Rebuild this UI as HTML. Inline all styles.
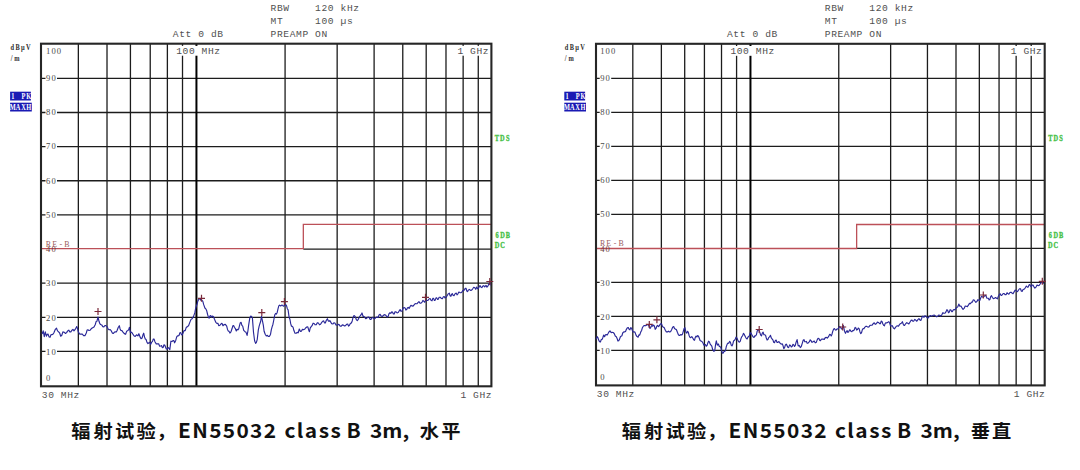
<!DOCTYPE html>
<html><head><meta charset="utf-8"><title>EN55032 radiated emission</title>
<style>
html,body{margin:0;padding:0;background:#fff;}
body{width:1080px;height:470px;overflow:hidden;position:relative;}
svg{position:absolute;left:0;top:0;display:block;}
</style></head>
<body>
<svg width="1080" height="470" viewBox="0 0 1080 470">
<rect width="1080" height="470" fill="#fff"/>
<line x1="41" y1="351.46" x2="491.4" y2="351.46" stroke="#1c1c1c" stroke-width="1.3"/>
<line x1="41" y1="317.32" x2="491.4" y2="317.32" stroke="#1c1c1c" stroke-width="1.3"/>
<line x1="41" y1="283.18" x2="491.4" y2="283.18" stroke="#1c1c1c" stroke-width="1.3"/>
<line x1="303.33" y1="249.04" x2="491.4" y2="249.04" stroke="#1c1c1c" stroke-width="1.3"/>
<line x1="41" y1="214.9" x2="491.4" y2="214.9" stroke="#1c1c1c" stroke-width="1.3"/>
<line x1="41" y1="180.76" x2="491.4" y2="180.76" stroke="#1c1c1c" stroke-width="1.3"/>
<line x1="41" y1="146.62" x2="491.4" y2="146.62" stroke="#1c1c1c" stroke-width="1.3"/>
<line x1="41" y1="112.48" x2="491.4" y2="112.48" stroke="#1c1c1c" stroke-width="1.3"/>
<line x1="41" y1="78.34" x2="491.4" y2="78.34" stroke="#1c1c1c" stroke-width="1.3"/>
<line x1="78.35" y1="43.7" x2="78.35" y2="386.3" stroke="#1c1c1c" stroke-width="1.3"/>
<line x1="107.01" y1="43.7" x2="107.01" y2="386.3" stroke="#1c1c1c" stroke-width="1.3"/>
<line x1="130.43" y1="43.7" x2="130.43" y2="386.3" stroke="#1c1c1c" stroke-width="1.3"/>
<line x1="150.23" y1="43.7" x2="150.23" y2="386.3" stroke="#1c1c1c" stroke-width="1.3"/>
<line x1="167.38" y1="43.7" x2="167.38" y2="386.3" stroke="#1c1c1c" stroke-width="1.3"/>
<line x1="182.51" y1="43.7" x2="182.51" y2="386.3" stroke="#1c1c1c" stroke-width="1.3"/>
<line x1="285.08" y1="43.7" x2="285.08" y2="386.3" stroke="#1c1c1c" stroke-width="1.3"/>
<line x1="337.16" y1="43.7" x2="337.16" y2="386.3" stroke="#1c1c1c" stroke-width="1.3"/>
<line x1="374.11" y1="43.7" x2="374.11" y2="386.3" stroke="#1c1c1c" stroke-width="1.3"/>
<line x1="402.77" y1="43.7" x2="402.77" y2="386.3" stroke="#1c1c1c" stroke-width="1.3"/>
<line x1="426.19" y1="43.7" x2="426.19" y2="386.3" stroke="#1c1c1c" stroke-width="1.3"/>
<line x1="445.99" y1="43.7" x2="445.99" y2="386.3" stroke="#1c1c1c" stroke-width="1.3"/>
<line x1="463.14" y1="43.7" x2="463.14" y2="386.3" stroke="#1c1c1c" stroke-width="1.3"/>
<line x1="478.27" y1="43.7" x2="478.27" y2="386.3" stroke="#1c1c1c" stroke-width="1.3"/>
<line x1="196.44" y1="43.7" x2="196.44" y2="386.3" stroke="#000" stroke-width="2"/>
<rect x="45.5" y="347.96" width="11.5" height="7" fill="#fff"/>
<rect x="45.5" y="313.82" width="11.5" height="7" fill="#fff"/>
<rect x="45.5" y="279.68" width="11.5" height="7" fill="#fff"/>
<rect x="45.5" y="245.54" width="11.5" height="7" fill="#fff"/>
<rect x="45.5" y="211.4" width="11.5" height="7" fill="#fff"/>
<rect x="45.5" y="177.26" width="11.5" height="7" fill="#fff"/>
<rect x="45.5" y="143.12" width="11.5" height="7" fill="#fff"/>
<rect x="45.5" y="108.98" width="11.5" height="7" fill="#fff"/>
<rect x="45.5" y="74.84" width="11.5" height="7" fill="#fff"/>
<rect x="175" y="45.9" width="46" height="9.8" fill="#fff"/>
<rect x="455.9" y="45.9" width="34" height="9.8" fill="#fff"/>
<polyline points="41,248.7 303.33,248.7 303.33,224.4 491.4,224.4" fill="none" stroke="#bc5058" stroke-width="1.3"/>
<rect x="41" y="43.7" width="450.4" height="342.6" fill="none" stroke="#262626" stroke-width="2.1"/>
<g font-family="'Liberation Serif', serif" fill="#4a4a4a" font-size="8.6">
<text x="48.12 53.58 59.02" y="53.6" text-anchor="middle" xml:space="preserve">100</text>
<text x="48.12 53.58" y="354.84" text-anchor="middle" xml:space="preserve">10</text>
<text x="48.12 53.58" y="320.58" text-anchor="middle" xml:space="preserve">20</text>
<text x="48.12 53.58" y="286.32" text-anchor="middle" xml:space="preserve">30</text>
<g fill="#6e3c40"><text x="48.12 53.58" y="252.06" text-anchor="middle" xml:space="preserve">40</text></g>
<text x="48.12 53.58" y="217.8" text-anchor="middle" xml:space="preserve">50</text>
<text x="48.12 53.58" y="183.54" text-anchor="middle" xml:space="preserve">60</text>
<text x="48.12 53.58" y="149.28" text-anchor="middle" xml:space="preserve">70</text>
<text x="48.12 53.58" y="115.02" text-anchor="middle" xml:space="preserve">80</text>
<text x="48.12 53.58" y="80.76" text-anchor="middle" xml:space="preserve">90</text>
<text x="48.12" y="380.9" text-anchor="middle" xml:space="preserve">0</text>
</g>
<g font-family="'Liberation Mono', 'DejaVu Sans Mono', monospace" fill="#505050" font-size="9.6" letter-spacing="0.6">
<text x="176.2" y="54.1">100 MHz</text>
<text x="457.4" y="54.1">1 GHz</text>
<text x="41.8" y="398.1">30 MHz</text>
<text x="460.4" y="398.1">1 GHz</text>
<text x="172.8" y="37.1">Att 0 dB</text>
<text x="270.6" y="11.4" xml:space="preserve">RBW    120 kHz</text>
<text x="270.6" y="23.9" xml:space="preserve">MT     100 µs</text>
<text x="270.6" y="36.9" xml:space="preserve">PREAMP ON</text>
</g>
<g font-family="'Liberation Serif', serif" fill="#9a5c5e" font-size="9.2"><text transform="translate(45.3,246.56) scale(0.86,1)" x="3.6 10.81 18.02 25.23" y="0" text-anchor="middle" xml:space="preserve">RE-B</text></g>
<g font-family="'Liberation Serif', serif" font-weight="700" fill="#44c044" stroke="#44c044" stroke-width="0.3" font-size="7.4">
<text transform="translate(494.3,140.9) scale(0.86,1)" x="3.14 9.42 15.7" y="0" text-anchor="middle" xml:space="preserve">TDS</text>
<text transform="translate(494.4,237.8) scale(0.86,1)" x="3.14 9.42 15.7" y="0" text-anchor="middle" xml:space="preserve">6DB</text>
<text transform="translate(494.4,248.4) scale(0.86,1)" x="3.14 9.42" y="0" text-anchor="middle" xml:space="preserve">DC</text>
</g>
<g font-family="'Liberation Serif', serif" font-weight="700" fill="#2e2e2e" font-size="7.4">
<text transform="translate(9.7,49.8) scale(0.86,1)" x="3.08 9.24 15.41 21.57" y="0" text-anchor="middle" xml:space="preserve">dBµV</text>
<text transform="translate(8.9,60.8) scale(0.86,1)" x="3.08 9.24" y="0" text-anchor="middle" xml:space="preserve">/m</text>
</g>
<rect x="10.1" y="91.7" width="20.8" height="8.8" fill="#1a1ab4"/>
<rect x="10.1" y="102.7" width="21.7" height="8.8" fill="#1a1ab4"/>
<g font-family="'Liberation Serif', serif" font-weight="700" fill="#fff" font-size="7.4">
<text transform="translate(10.2,98.9) scale(0.86,1)" x="3.08 9.24 15.41 21.57" y="0" text-anchor="middle" xml:space="preserve">1 PK</text>
<text transform="translate(10.2,109.9) scale(0.86,1)" x="3.08 9.24 15.41 21.57" y="0" text-anchor="middle" xml:space="preserve">MAXH</text>
</g>
<polyline points="42.1,334 43.2,330.9 44.3,336.7 45.3,331.9 46.4,336.2 47.2,334.57 48,334 49.05,336.85 50.1,337.2 50.9,334.74 51.7,334.6 52.75,334.46 53.8,333 55.15,329.7 56.5,328.2 57.55,330.9 58.6,331.9 59.65,333 60.7,336.2 61.8,335.24 62.9,331.9 64.2,332.21 65.5,333.5 66.6,332.63 67.7,330.9 68.75,330.16 69.8,331.9 70.85,331.93 71.9,330.3 72.95,329.44 74,330.9 75.35,329.15 76.7,326.6 77.5,328.4 78.3,331.9 79.65,334.07 81,334 82.3,334.17 83.6,335.6 84.95,335.65 86.3,333 87.1,330.1 87.9,329.8 88.95,330.48 90,330.3 91.35,328.57 92.7,327.7 94,327.04 95.3,324.5 96.1,321.56 96.9,321.3 98,317 99,321.3 99.8,323.68 100.6,324.5 101.7,324.93 102.8,326.6 103.85,326.87 104.9,325.5 105.95,325.62 107,326.6 108.05,328.82 109.1,329.8 110.2,329.51 111.3,330.9 112.35,333.1 113.4,333.5 114.45,332.07 115.5,331.9 116.3,331.83 117.1,330.5 118.2,327.48 119.3,325.7 120.1,328.96 120.9,330.5 121.95,330.61 123,332.1 124.3,333.62 125.6,334.3 126.7,331.16 127.8,330.5 128.6,329.86 129.4,327.3 130.4,332.7 131.5,332.16 132.6,333.7 133.9,335.64 135.2,336.4 136.55,334.76 137.9,335.9 138.9,333.7 140,336.9 141.05,338.71 142.1,338 142.9,335.08 143.7,333.2 144.5,336.83 145.3,339 146.1,339.48 146.9,342.2 147.95,343.61 149,342.8 149.8,342.26 150.6,344.4 151.7,342.2 152.5,341.42 153.3,339 154.1,339.12 154.9,341.7 156.25,343.82 157.6,343.8 158.63,343.83 159.67,346.25 160.7,346 161.5,345.52 162.3,347.6 163.1,347.5 163.9,344.9 164.7,345.04 165.5,347 166.3,349.04 167.1,349.1 168.2,347.6 169,348.22 169.8,349.7 170.9,341.2 171.95,341.54 173,340.6 173.8,340.5 174.6,342.8 175.65,340.66 176.7,336.9 177.5,335.83 178.3,335.9 179.1,335.25 179.9,332.7 180.7,332.65 181.5,334.8 182.3,334.82 183.1,332.7 184.15,330.45 185.2,330.59 186.25,327.37 187.3,326.8 188.65,325.53 190,321.9 191.05,319.38 192.1,318.7 193.45,316.59 194.8,312.9 195.6,308.56 196.4,306 197.2,303.73 198,300.6 199.05,299.11 200.1,298.5 200.9,300.4 201.7,300.1 202.75,301.12 203.8,304.9 204.9,307.99 206,309.1 206.8,311.01 207.6,314.5 208.35,316.92 209.1,318.2 209.9,315.95 210.7,315.5 211.5,317.18 212.3,316.1 213.4,316.53 214.5,319.3 215.8,322.34 217.1,323.5 217.9,323.29 218.7,325.6 219.8,325.43 220.9,324 221.93,323.29 222.97,325.75 224,324.6 225.35,324.42 226.7,326.2 227.5,329.46 228.3,331 229.1,331.38 229.9,333.1 230.95,331.9 232,328.8 232.8,325.84 233.6,325.6 234.4,327.36 235.2,328.3 236.3,331 237.1,329.27 237.9,329.9 238.7,328.97 239.5,325.6 240.3,322.71 241.1,322.4 241.9,325.44 242.7,326.2 243.7,330.4 245,331.7 246.05,332.34 247.1,335.4 247.9,331.02 248.7,324.8 249.8,317.9 250.6,316.14 251.4,316.3 252.4,317.9 253.5,332.2 254.6,340.7 255.6,343.4 256.4,342.38 257.2,339.7 258.3,330.1 259.1,326.44 259.9,323.7 260.7,321.27 261.5,316.3 262.6,321.6 263.35,325.43 264.1,331.2 265.2,334.2 266.3,336 267.35,335.35 268.4,336.5 269.45,336.33 270.5,334.4 271.3,329.89 272.1,326.9 272.9,324.45 273.7,320.5 274.8,314.7 275.6,313.46 276.4,314.1 277.2,312.47 278,308.8 278.8,305.94 279.6,305.1 280.65,305.96 281.7,305.1 282.5,305.22 283.3,306.2 284.1,306.03 284.9,304.6 285.7,304.52 286.5,305.6 287.3,308.73 288.1,309.9 289.1,317.3 289.9,319.24 290.7,323.7 291.5,326.25 292.3,326.4 293.1,327.3 293.9,330.6 295,333.17 296.1,333.3 297.15,332.39 298.2,332.8 299.3,329 300.35,331.34 301.4,331.2 302.45,329.33 303.5,329.6 304.55,329.28 305.6,328 306.7,327.03 307.8,326.9 308.6,329.71 309.4,331.7 310.2,328.14 311,326.9 312.05,325.7 313.1,323.2 314.15,323.49 315.2,324.8 316.25,324.77 317.3,322.7 318.4,323.01 319.5,324.8 320.55,324.22 321.6,322.7 322.65,321.24 323.7,320.9 324.5,322.88 325.3,323 326.35,320.28 327.4,318.7 328.2,320.72 329,321.4 329.8,320.54 330.6,321.9 331.7,323.8 332.8,324 333.85,322.78 334.9,323 335.95,324.92 337,325.1 338.05,324.43 339.1,324.6 340.2,326.19 341.3,326.2 342.35,324.83 343.4,325.1 344.45,325.94 345.5,325.6 346.6,324.29 347.7,324 348.5,326.1 349.3,325.6 350.35,323.39 351.4,323 352.2,320.96 353,317.7 354,315.5 355.1,316.39 356.2,319.3 357.25,320.52 358.3,319.3 359.35,316.98 360.4,315.5 361.2,314.62 362,312.9 363.1,316.6 363.9,316.3 364.7,317.1 365.75,318.77 366.8,318.2 367.85,317.09 368.9,317.1 370,319.3 371.1,319.3 372.15,317.42 373.2,317.7 374.25,318.89 375.3,318.2 376.35,317.03 377.4,317.1 378.2,317.43 379,315 380.1,314.35 381.2,316.1 382.5,316.47 383.8,315 384.9,314.63 386,315.5 387.05,317.1 388.1,316.6 388.9,313.96 389.7,312.9 390.75,313.33 391.8,311.8 392.6,312.18 393.4,314 394.2,313.93 395,311.8 396.05,311.89 397.1,312.9 398.2,312.5 399.3,310.7 400.1,309.58 400.9,311.2 401.95,311.13 403,308.5 404.05,307.54 405.1,308 405.9,310.06 406.7,309.6 407.5,307.79 408.3,307.4 409.1,308.49 409.9,306.9 410.95,305.26 412,305.9 413.05,306.17 414.1,304.8 415.2,303.6 416.3,303.7 417.1,303.61 417.9,302.7 418.95,301.67 420,303.2 421.05,303.09 422.1,302.1 422.9,300.38 423.7,301.1 424.77,302.26 425.83,299.73 426.9,300.5 427.95,300.32 429,299 430.1,298.48 431.2,300.5 432,300.82 432.8,298.4 433.6,298.35 434.4,300.5 435.2,300.11 436,297.9 436.8,297.92 437.6,299.5 438.35,299.15 439.1,297.3 440.2,297.24 441.3,298.4 442.35,298.67 443.4,296.8 444.2,296.52 445,297.9 446.05,297.39 447.1,295.7 448.2,293.9 449.3,293.1 450.1,295.77 450.9,296.3 451.65,294.25 452.4,293.6 453.2,295.55 454,295.7 455.1,293.67 456.2,293.1 457,294.87 457.8,294.1 458.85,292.05 459.9,292.6 460.95,292.72 462,292 462.8,290.6 463.6,290.4 464.4,290.08 465.2,288.3 466,288.26 466.8,291 467.6,291.63 468.4,289.9 469.45,289.41 470.5,290.4 471.6,290.21 472.7,288.8 473.75,287.23 474.8,287.8 475.73,289.3 476.67,287 477.6,288.6 478.4,288.39 479.2,286.7 480,285.57 480.8,287 481.8,287.64 482.8,286.1 483.75,285.67 484.7,287 486,285.4 486.95,287.14 487.9,286.1 488.85,283.92 489.8,283 490.4,285.4" fill="none" stroke="#2a2898" stroke-width="1.15" stroke-linejoin="round"/>
<path d="M94.5,311.5h7M98,308v7" stroke="#7a2a3a" stroke-width="1.2" fill="none"/>
<path d="M198,298.3h7M201.5,294.8v7" stroke="#7a2a3a" stroke-width="1.2" fill="none"/>
<path d="M258.3,312.6h7M261.8,309.1v7" stroke="#7a2a3a" stroke-width="1.2" fill="none"/>
<path d="M280.9,301.6h7M284.4,298.1v7" stroke="#7a2a3a" stroke-width="1.2" fill="none"/>
<path d="M422,297.3h7M425.5,293.8v7" stroke="#7a2a3a" stroke-width="1.2" fill="none"/>
<path d="M486.3,281.5h7M489.8,278v7" stroke="#7a2a3a" stroke-width="1.2" fill="none"/>
<line x1="596" y1="350.4" x2="1044.7" y2="350.4" stroke="#1c1c1c" stroke-width="1.3"/>
<line x1="596" y1="316.4" x2="1044.7" y2="316.4" stroke="#1c1c1c" stroke-width="1.3"/>
<line x1="596" y1="282.4" x2="1044.7" y2="282.4" stroke="#1c1c1c" stroke-width="1.3"/>
<line x1="856.64" y1="248.4" x2="1044.7" y2="248.4" stroke="#1c1c1c" stroke-width="1.3"/>
<line x1="596" y1="214.4" x2="1044.7" y2="214.4" stroke="#1c1c1c" stroke-width="1.3"/>
<line x1="596" y1="180.4" x2="1044.7" y2="180.4" stroke="#1c1c1c" stroke-width="1.3"/>
<line x1="596" y1="146.4" x2="1044.7" y2="146.4" stroke="#1c1c1c" stroke-width="1.3"/>
<line x1="596" y1="112.4" x2="1044.7" y2="112.4" stroke="#1c1c1c" stroke-width="1.3"/>
<line x1="596" y1="78.4" x2="1044.7" y2="78.4" stroke="#1c1c1c" stroke-width="1.3"/>
<line x1="632.81" y1="43.8" x2="632.81" y2="385.4" stroke="#1c1c1c" stroke-width="1.3"/>
<line x1="661.37" y1="43.8" x2="661.37" y2="385.4" stroke="#1c1c1c" stroke-width="1.3"/>
<line x1="684.7" y1="43.8" x2="684.7" y2="385.4" stroke="#1c1c1c" stroke-width="1.3"/>
<line x1="704.42" y1="43.8" x2="704.42" y2="385.4" stroke="#1c1c1c" stroke-width="1.3"/>
<line x1="721.51" y1="43.8" x2="721.51" y2="385.4" stroke="#1c1c1c" stroke-width="1.3"/>
<line x1="736.58" y1="43.8" x2="736.58" y2="385.4" stroke="#1c1c1c" stroke-width="1.3"/>
<line x1="838.76" y1="43.8" x2="838.76" y2="385.4" stroke="#1c1c1c" stroke-width="1.3"/>
<line x1="890.64" y1="43.8" x2="890.64" y2="385.4" stroke="#1c1c1c" stroke-width="1.3"/>
<line x1="927.45" y1="43.8" x2="927.45" y2="385.4" stroke="#1c1c1c" stroke-width="1.3"/>
<line x1="956" y1="43.8" x2="956" y2="385.4" stroke="#1c1c1c" stroke-width="1.3"/>
<line x1="979.33" y1="43.8" x2="979.33" y2="385.4" stroke="#1c1c1c" stroke-width="1.3"/>
<line x1="999.06" y1="43.8" x2="999.06" y2="385.4" stroke="#1c1c1c" stroke-width="1.3"/>
<line x1="1016.15" y1="43.8" x2="1016.15" y2="385.4" stroke="#1c1c1c" stroke-width="1.3"/>
<line x1="1031.22" y1="43.8" x2="1031.22" y2="385.4" stroke="#1c1c1c" stroke-width="1.3"/>
<line x1="750.46" y1="43.8" x2="750.46" y2="385.4" stroke="#000" stroke-width="2"/>
<rect x="599.7" y="346.9" width="11.5" height="7" fill="#fff"/>
<rect x="599.7" y="312.9" width="11.5" height="7" fill="#fff"/>
<rect x="599.7" y="278.9" width="11.5" height="7" fill="#fff"/>
<rect x="599.7" y="244.9" width="11.5" height="7" fill="#fff"/>
<rect x="599.7" y="210.9" width="11.5" height="7" fill="#fff"/>
<rect x="599.7" y="176.9" width="11.5" height="7" fill="#fff"/>
<rect x="599.7" y="142.9" width="11.5" height="7" fill="#fff"/>
<rect x="599.7" y="108.9" width="11.5" height="7" fill="#fff"/>
<rect x="599.7" y="74.9" width="11.5" height="7" fill="#fff"/>
<rect x="729.2" y="46" width="46" height="9.8" fill="#fff"/>
<rect x="1009.2" y="46" width="34" height="9.8" fill="#fff"/>
<polyline points="596,248.5 856.64,248.5 856.64,224.5 1044.7,224.5" fill="none" stroke="#bc5058" stroke-width="1.3"/>
<rect x="596" y="43.8" width="448.7" height="341.6" fill="none" stroke="#262626" stroke-width="2.1"/>
<g font-family="'Liberation Serif', serif" fill="#4a4a4a" font-size="8.6">
<text x="602.33 607.77 613.23" y="53.7" text-anchor="middle" xml:space="preserve">100</text>
<text x="602.33 607.77" y="354.04" text-anchor="middle" xml:space="preserve">10</text>
<text x="602.33 607.77" y="319.88" text-anchor="middle" xml:space="preserve">20</text>
<text x="602.33 607.77" y="285.72" text-anchor="middle" xml:space="preserve">30</text>
<g fill="#6e3c40"><text x="602.33 607.77" y="251.56" text-anchor="middle" xml:space="preserve">40</text></g>
<text x="602.33 607.77" y="217.4" text-anchor="middle" xml:space="preserve">50</text>
<text x="602.33 607.77" y="183.24" text-anchor="middle" xml:space="preserve">60</text>
<text x="602.33 607.77" y="149.08" text-anchor="middle" xml:space="preserve">70</text>
<text x="602.33 607.77" y="114.92" text-anchor="middle" xml:space="preserve">80</text>
<text x="602.33 607.77" y="80.76" text-anchor="middle" xml:space="preserve">90</text>
<text x="602.33" y="380" text-anchor="middle" xml:space="preserve">0</text>
</g>
<g font-family="'Liberation Mono', 'DejaVu Sans Mono', monospace" fill="#505050" font-size="9.6" letter-spacing="0.6">
<text x="730.4" y="54.2">100 MHz</text>
<text x="1010.7" y="54.2">1 GHz</text>
<text x="596.8" y="397.2">30 MHz</text>
<text x="1013.7" y="397.2">1 GHz</text>
<text x="727" y="37.1">Att 0 dB</text>
<text x="824.8" y="11.4" xml:space="preserve">RBW    120 kHz</text>
<text x="824.8" y="23.9" xml:space="preserve">MT     100 µs</text>
<text x="824.8" y="36.9" xml:space="preserve">PREAMP ON</text>
</g>
<g font-family="'Liberation Serif', serif" fill="#9a5c5e" font-size="9.2"><text transform="translate(599.5,246.06) scale(0.86,1)" x="3.6 10.81 18.02 25.23" y="0" text-anchor="middle" xml:space="preserve">RE-B</text></g>
<g font-family="'Liberation Serif', serif" font-weight="700" fill="#44c044" stroke="#44c044" stroke-width="0.3" font-size="7.4">
<text transform="translate(1047.6,140.9) scale(0.86,1)" x="3.14 9.42 15.7" y="0" text-anchor="middle" xml:space="preserve">TDS</text>
<text transform="translate(1047.7,237.8) scale(0.86,1)" x="3.14 9.42 15.7" y="0" text-anchor="middle" xml:space="preserve">6DB</text>
<text transform="translate(1047.7,248.4) scale(0.86,1)" x="3.14 9.42" y="0" text-anchor="middle" xml:space="preserve">DC</text>
</g>
<g font-family="'Liberation Serif', serif" font-weight="700" fill="#2e2e2e" font-size="7.4">
<text transform="translate(563.9,49.8) scale(0.86,1)" x="3.08 9.24 15.41 21.57" y="0" text-anchor="middle" xml:space="preserve">dBµV</text>
<text transform="translate(563.1,60.8) scale(0.86,1)" x="3.08 9.24" y="0" text-anchor="middle" xml:space="preserve">/m</text>
</g>
<rect x="564.3" y="91.7" width="20.8" height="8.8" fill="#1a1ab4"/>
<rect x="564.3" y="102.7" width="21.7" height="8.8" fill="#1a1ab4"/>
<g font-family="'Liberation Serif', serif" font-weight="700" fill="#fff" font-size="7.4">
<text transform="translate(564.4,98.9) scale(0.86,1)" x="3.08 9.24 15.41 21.57" y="0" text-anchor="middle" xml:space="preserve">1 PK</text>
<text transform="translate(564.4,109.9) scale(0.86,1)" x="3.08 9.24 15.41 21.57" y="0" text-anchor="middle" xml:space="preserve">MAXH</text>
</g>
<polyline points="596.1,339.4 597.2,336.7 598,337.83 598.8,340.4 599.6,341.75 600.4,342 601.2,339.65 602,339.4 602.8,337.72 603.6,335.1 604.6,336.7 605.4,334.71 606.2,334.6 607,335.07 607.8,334 608.9,331.99 610,330.9 611.05,332.56 612.1,332.4 613.15,332.51 614.2,333.5 615.25,335.93 616.3,336.7 617.1,338.38 617.9,341 618.7,340.69 619.5,339.4 620.3,336.98 621.1,336.2 621.9,335.83 622.7,333 623.8,331.93 624.9,331.9 625.65,331.22 626.4,329.3 627.5,327.7 628.3,327.47 629.1,329.3 629.9,329.85 630.7,327.7 631.5,328.02 632.3,330.3 633.1,331.9 633.9,331.9 634.95,332.12 636,335.1 637.05,336.6 638.1,337.2 638.9,334.89 639.7,335.1 640.8,331.9 641.6,330.49 642.4,327.7 643.45,326.06 644.5,325.5 645.6,325.77 646.7,325 647.75,324.54 648.8,325.5 649.6,328.07 650.4,328.2 651.2,326.27 652,325.5 652.8,326.23 653.6,325 654.4,326.11 655.2,329.3 656,328.47 656.8,326.1 657.6,325.4 658.4,326.6 659.2,326.01 660,324.5 660.8,323.74 661.6,323.9 662.35,326.11 663.1,327.1 664.2,327.62 665.3,330.3 666.35,331.93 667.4,331.9 668.45,331.19 669.5,331.9 670.55,331.79 671.6,329.7 672.65,327.25 673.7,326.5 674.5,328.5 675.3,329.1 676.35,329.51 677.4,332.3 678.5,335 679.6,335.5 680.65,334.61 681.7,335 682.5,334.12 683.3,331.3 684.1,328.52 684.9,327.6 686,332.3 686.8,333.08 687.6,331.3 688.35,332.27 689.1,335.5 689.9,337.29 690.7,337.7 691.8,336.57 692.9,338.2 693.7,339.77 694.5,340.3 695.3,337.38 696.1,336.1 696.9,336.96 697.7,335.5 698.5,336.3 699.3,338.2 700.1,340.44 700.9,340.9 701.95,341.51 703,343 703.8,345.12 704.6,345.1 705.4,344.49 706.2,346.2 707,345.57 707.8,343 708.6,341.17 709.4,341.9 710.2,344.21 711,345.1 711.8,346.15 712.6,349.4 713.65,351.19 714.7,351 715.5,344.97 716.3,340.9 717.3,345.1 718.4,344 719.2,346.21 720,346.7 720.8,347.31 721.6,350.4 722.4,353.09 723.2,353.1 724,351.43 724.8,351.5 725.6,349.91 726.4,346.2 727.2,344.14 728,343 728.8,343.3 729.6,341.4 730.4,342.2 731.2,345.1 732,345.94 732.8,344 733.6,340.93 734.4,340.3 735.2,339.38 736,337.1 737.05,338.21 738.1,340.9 739.15,342.22 740.2,341.4 741,338.58 741.8,336.6 742.6,335.86 743.4,333.4 744.2,334.18 745,336.1 746.05,338.07 747.1,339 747.9,337.24 748.7,336.4 749.5,335.72 750.3,332.7 751.1,333.22 751.9,334.8 752.95,336.75 754,337.4 754.8,335.86 755.6,335.9 756.4,334.77 757.2,331.1 758.3,329.5 759.1,330.62 759.9,332.7 760.7,335.15 761.5,335.9 762.3,333.05 763.1,332.1 763.9,334.73 764.7,334.8 765.5,335.18 766.3,338 767.1,340.06 767.9,339.6 768.7,337.57 769.5,336.9 770.5,335.3 771.3,337.97 772.1,339 772.9,339.84 773.7,342.2 774.5,342.68 775.3,340.6 776.1,340.04 776.9,342.2 777.7,342.5 778.5,341.7 779.3,341.92 780.1,343.3 781.15,344.18 782.2,343.8 783,345.57 783.8,348.6 784.6,347.63 785.4,344.9 786.2,344.16 787,345.4 787.8,347.16 788.6,347.6 789.7,344.9 790.5,345.55 791.3,347 792.1,346.52 792.9,344.4 793.7,344.68 794.5,346.5 795.3,345.32 796.1,342.2 797.1,339.6 798.2,346 799.25,345.45 800.3,347.6 801.35,346.29 802.4,342.8 803.2,340.28 804,339.6 804.8,341.67 805.6,341.7 806.4,341.42 807.2,343.3 808.3,342.95 809.4,341.7 810.2,339.85 811,340.6 812.05,342.33 813.1,341.7 814.15,340.98 815.2,342.8 816.25,342.4 817.3,339.6 818.1,338.26 818.9,338.5 819.7,340.35 820.5,340.6 821.3,339.3 822.1,339 823.2,339.1 824.25,339.38 825.3,337.6 826.35,337.39 827.4,338.1 828.5,336.72 829.6,334.4 830.4,334.59 831.2,336 832,334.16 832.8,331.2 833.6,329.11 834.4,328.5 835.2,329.75 836,330.1 836.8,329.15 837.6,329 838.35,328.5 839.1,326.9 839.9,326.65 840.7,327.4 841.5,328.96 842.3,329 843.4,325.5 844.5,331.2 845.5,333.3 846.3,331.52 847.1,330.6 847.9,332.42 848.7,331.7 849.5,329.89 850.3,330.1 851.1,331.45 851.9,331.7 852.7,330.5 853.5,330.6 854.3,329.75 855.1,327.4 855.9,327.99 856.7,330.1 857.5,329.57 858.3,328 859.1,328.6 859.9,331.7 860.7,333.64 861.5,332.8 862.3,329.78 863.1,328.5 863.9,328.83 864.7,327.4 865.75,326.41 866.8,326.4 867.85,327.15 868.9,326.9 870,325.36 871.1,325.3 872.15,325.16 873.2,323.7 874.25,322.77 875.3,324.3 876.35,323.76 877.4,322.1 878.5,322.48 879.6,323.7 880.4,323.75 881.2,321.1 882,321.47 882.8,323.7 883.6,325.35 884.4,325.9 885.2,323.36 886,322.7 887.05,322.83 888.1,322.1 888.9,321.72 889.7,323.2 890.5,325.93 891.3,325.9 892.35,325.69 893.4,328 894.45,328.8 895.5,327.4 896.6,325.99 897.7,325.9 898.5,326.17 899.3,324.9 900.35,323.53 901.4,323.3 902.4,321.7 903.5,324.9 904.55,325.52 905.6,323.8 906.7,322.62 907.8,323.3 908.85,323.93 909.9,322.2 910.95,320.42 912,320.1 912.8,321.27 913.6,321.2 914.65,319.44 915.7,320.1 916.8,321.23 917.9,319.6 918.95,318.6 920,320.1 920.8,320.51 921.6,318.5 922.4,316.23 923.2,316.4 924,317.29 924.8,315.9 925.85,316.02 926.9,317.4 927.95,318.07 929,316.9 930.1,315.64 931.2,315.9 932.25,316.03 933.3,315.3 934.35,315.17 935.4,315.9 936.5,316.83 937.6,316.4 938.65,315.19 939.7,315.3 940.75,316.14 941.8,314.8 942.85,312.64 943.9,313.2 945,313.25 946.1,311.6 946.9,309.71 947.7,310.5 948.5,312.69 949.3,312.1 950.1,309.69 950.9,310 951.65,311.56 952.4,311.6 953.2,309.93 954,309.5 954.8,309.83 955.6,308.9 956.4,307.5 957.2,307.3 958,306.3 958.8,304.1 959.9,306.3 960.95,306.08 962,307.9 963.05,309.45 964.1,308.4 965.2,306.11 966.3,306.3 967.35,306.63 968.4,305.2 969.45,303.35 970.5,303.6 971.6,302 972.4,302.15 973.2,299.9 974,299.97 974.8,301 975.85,302.31 976.9,301.5 977.95,299.64 979,300.4 979.8,300.53 980.6,298.3 981.4,296.35 982.2,296.7 983.3,297.33 984.4,296.2 985.2,295.37 986,295.7 986.8,298.19 987.6,298.3 988.35,298.37 989.1,299.9 989.9,299.5 990.7,296.7 991.5,295.63 992.3,297.3 993.4,298.6 994.5,298.3 995.55,297.5 996.6,298.3 997.4,298.85 998.2,296.7 999.3,294.6 1000.1,293.73 1000.9,295.1 1001.65,295.42 1002.4,294.6 1003.2,293.52 1004,293.5 1005.1,294.6 1006.2,294.6 1007,292.75 1007.8,293.5 1008.85,294.21 1009.9,292.5 1010.95,292.2 1012,293 1013.05,293.68 1014.1,291.9 1015.2,290.02 1016.3,290.9 1017.35,291.66 1018.4,290.3 1019.45,288.75 1020.5,288.7 1021.3,291 1022.1,291.4 1022.9,289.82 1023.7,289.3 1024.5,288.91 1025.3,287.7 1026.35,286.03 1027.4,287.1 1028.2,287.1 1029,285 1029.8,284.62 1030.6,286.1 1031.4,286.88 1032.2,285 1033,284.97 1033.8,286.6 1034.9,288.12 1036,287.1 1037.05,285.12 1038.1,285.6 1039.15,285.41 1040.2,284 1041.25,282.55 1042.3,282.4 1043.1,283.34 1043.9,282.9" fill="none" stroke="#2a2898" stroke-width="1.15" stroke-linejoin="round"/>
<path d="M645.8,324.4h7M649.3,320.9v7" stroke="#7a2a3a" stroke-width="1.2" fill="none"/>
<path d="M653.4,319.8h7M656.9,316.3v7" stroke="#7a2a3a" stroke-width="1.2" fill="none"/>
<path d="M755.7,329.5h7M759.2,326v7" stroke="#7a2a3a" stroke-width="1.2" fill="none"/>
<path d="M839.2,327h7M842.7,323.5v7" stroke="#7a2a3a" stroke-width="1.2" fill="none"/>
<path d="M979.8,295h7M983.3,291.5v7" stroke="#7a2a3a" stroke-width="1.2" fill="none"/>
<path d="M1038.8,281.3h7M1042.3,277.8v7" stroke="#7a2a3a" stroke-width="1.2" fill="none"/>
<text transform="translate(0,438) scale(1.07,1)" x="66.54 87.48 107.41 127.48 146.35 166.41 179.65 195.51 208.26 221.01 233.77 246.53 259.28 265.82 277.44 284.93 297.81 308.82 319.81 323.79 337.08 345.73 357.35 376.26 382.7 392.36 412.36" y="0" font-family="'Noto Sans CJK SC','Liberation Sans',sans-serif" font-weight="700" font-size="18" fill="#111" xml:space="preserve">辐射试验，<tspan font-size="19.5">EN55032 class B 3m, </tspan>水平</text>
<text transform="translate(0,438) scale(1.07,1)" x="581.03 601.96 621.9 641.96 660.83 680.9 694.13 709.99 722.74 735.49 748.26 761.01 773.76 780.31 791.92 799.42 812.3 823.3 834.3 838.28 851.56 860.21 871.83 890.75 897.19 907.22 927.22" y="0" font-family="'Noto Sans CJK SC','Liberation Sans',sans-serif" font-weight="700" font-size="18" fill="#111" xml:space="preserve">辐射试验，<tspan font-size="19.5">EN55032 class B 3m, </tspan>垂直</text>
</svg>
</body></html>
